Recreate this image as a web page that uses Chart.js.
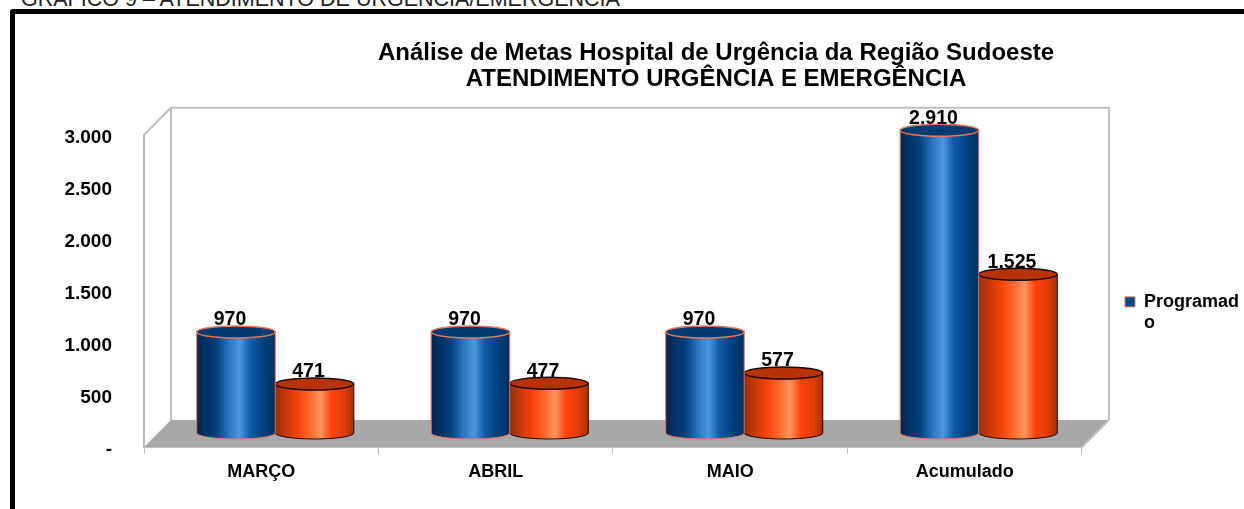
<!DOCTYPE html>
<html>
<head>
<meta charset="utf-8">
<script src="https://cdn.jsdelivr.net/npm/chart.js@4"></script>
<style>
  html, body { margin: 0; padding: 0; background: #fff; overflow: hidden; }
  #caption { position: absolute; left: 21px; top: -13px; font: 21.5px "Liberation Sans", Arial, sans-serif; color: #222; white-space: nowrap; }
  #frame { position: absolute; left: 10px; top: 9px; width: 1240px; height: 520px; border: 5px solid #000; border-radius: 3px; }
  #wrap { position: absolute; left: 0; top: 0; width: 1244px; height: 509px; }
</style>
</head>
<body>
<div id="caption">GRÁFICO 9 – ATENDIMENTO DE URGÊNCIA/EMERGÊNCIA</div>
<div id="frame"></div>
<div id="wrap"><canvas id="chart"></canvas></div>
<script>
const categories = ['MARÇO', 'ABRIL', 'MAIO', 'Acumulado'];
const programado = [970, 970, 970, 2910];
const realizado = [471, 477, 577, 1525];
const yTicks = [0, 500, 1000, 1500, 2000, 2500, 3000];
const titleLines = ['Análise de Metas Hospital de Urgência da Região Sudoeste', 'ATENDIMENTO URGÊNCIA E EMERGÊNCIA'];

const FONT = '"Liberation Sans", Arial, sans-serif';
const DEPTH = 27;       // wall depth of the fake 3D box
const BAR_DEPTH = 14;   // cylinders stand in the middle of the floor
const TITLE_CENTER = 716;
const LEGEND_SHIFT = 40;

function fmt(v) {
    return v === 0 ? '-' : v.toLocaleString('pt-BR');
}

function sideGradient(ctx, x0, x1, stops) {
    const g = ctx.createLinearGradient(x0, 0, x1, 0);
    stops.forEach(s => g.addColorStop(s[0], s[1]));
    return g;
}

const blueStops = [[0, '#00264f'], [0.25, '#003f7d'], [0.42, '#2f78c2'], [0.55, '#4f96dc'], [0.68, '#0f5ba6'], [0.85, '#003f7d'], [1, '#002f60']];
const orangeStops = [[0, '#9a2e0a'], [0.28, '#f54208'], [0.45, '#ff6a2e'], [0.58, '#ff9560'], [0.72, '#ff4208'], [0.88, '#e03c08'], [1, '#a8300a']];

const box3d = {
    id: 'box3d',
    // the original title and legend sit off-centre, move their boxes after layout
    afterLayout(chart) {
        const t = chart.titleBlock;
        const w = t.right - t.left;
        t.left = TITLE_CENTER - w / 2;
        t.right = t.left + w;
        chart.legend.top += LEGEND_SHIFT;
        chart.legend.bottom += LEGEND_SHIFT;
    },
    beforeDatasetsDraw(chart) {
        const { ctx, chartArea: a } = chart;
        ctx.save();
        // floor
        ctx.fillStyle = '#a8a8a8';
        ctx.beginPath();
        ctx.moveTo(a.left, a.bottom);
        ctx.lineTo(a.left + DEPTH, a.bottom - DEPTH);
        ctx.lineTo(a.right + DEPTH, a.bottom - DEPTH);
        ctx.lineTo(a.right, a.bottom);
        ctx.closePath();
        ctx.fill();
        // back and side wall
        ctx.strokeStyle = '#bfbfbf';
        ctx.lineWidth = 2;
        ctx.beginPath();
        ctx.moveTo(a.left, a.top);
        ctx.lineTo(a.left + DEPTH, a.top - DEPTH);
        ctx.lineTo(a.right + DEPTH, a.top - DEPTH);
        ctx.lineTo(a.right + DEPTH, a.bottom - DEPTH);
        ctx.moveTo(a.left + DEPTH, a.top - DEPTH);
        ctx.lineTo(a.left + DEPTH, a.bottom - DEPTH);
        ctx.moveTo(a.right + DEPTH, a.bottom - DEPTH);
        ctx.lineTo(a.right, a.bottom);
        ctx.stroke();
        ctx.restore();
    },
    // cylinders replace the flat bars, positions still come from the bar elements
    beforeDatasetDraw(chart, args) {
        const ctx = chart.ctx;
        const ds = chart.data.datasets[args.index];
        const ry = 6;
        args.meta.data.forEach((bar, i) => {
            const left = bar.x - bar.width / 2 + BAR_DEPTH;
            const right = bar.x + bar.width / 2 + BAR_DEPTH;
            const cx = (left + right) / 2;
            const top = bar.y - BAR_DEPTH;
            const base = bar.base - BAR_DEPTH;
            const rx = bar.width / 2;
            ctx.save();
            ctx.beginPath();
            ctx.moveTo(left, top);
            ctx.lineTo(left, base);
            ctx.ellipse(cx, base, rx, ry, 0, Math.PI, 0, true);
            ctx.lineTo(right, top);
            ctx.closePath();
            ctx.fillStyle = sideGradient(ctx, left, right, ds.sideStops);
            ctx.fill();
            ctx.lineWidth = 1;
            ctx.strokeStyle = ds.borderColor;
            ctx.stroke();
            ctx.beginPath();
            ctx.ellipse(cx, top, rx, ry, 0, 0, Math.PI * 2);
            ctx.fillStyle = ds.topColor;
            ctx.fill();
            ctx.lineWidth = 1.5;
            ctx.stroke();
            // value label
            ctx.fillStyle = '#000';
            ctx.font = 'bold 19.5px ' + FONT;
            ctx.textAlign = 'center';
            ctx.textBaseline = 'middle';
            ctx.fillText(fmt(ds.data[i]), cx - 6, top - 12);
            ctx.restore();
        });
        return false;
    }
};

new Chart(document.getElementById('chart'), {
    type: 'bar',
    plugins: [box3d],
    data: {
        labels: categories,
        datasets: [
            { label: 'Programado', data: programado, backgroundColor: '#004a8c', borderColor: '#e8765a', borderWidth: 1, topColor: '#003a72', sideStops: blueStops },
            { label: 'Realizado', data: realizado, backgroundColor: '#ff4208', borderColor: '#1a0a04', borderWidth: 1, topColor: '#b83208', sideStops: orangeStops }
        ]
    },
    options: {
        responsive: true,
        maintainAspectRatio: false,
        animation: false,
        categoryPercentage: 0.67,
        barPercentage: 1,
        layout: { padding: { top: 40, left: 20, right: -5, bottom: 0 } },
        plugins: {
            title: {
                display: true,
                text: titleLines,
                color: '#000',
                font: { family: FONT, size: 24, weight: 'bold', lineHeight: 1.08 },
                padding: { top: 0, bottom: 43 }
            },
            legend: {
                position: 'right',
                labels: {
                    color: '#000',
                    font: { family: FONT, size: 18, weight: 'bold' },
                    boxWidth: 10,
                    boxHeight: 10,
                    padding: 43,
                    filter: item => item.datasetIndex === 0,
                    generateLabels(chart) {
                        const items = Chart.defaults.plugins.legend.labels.generateLabels(chart);
                        items[0].text = ['Programad', 'o'];
                        return items;
                    }
                }
            },
            tooltip: { enabled: false }
        },
        scales: {
            x: {
                grid: { drawOnChartArea: false, color: '#bfbfbf', tickLength: 7 },
                border: { color: '#bfbfbf', width: 2 },
                ticks: { color: '#000', font: { family: FONT, size: 18, weight: 'bold' }, padding: 7, maxRotation: 0 },
                afterFit(scale) { scale.height = 62; }
            },
            y: {
                min: 0,
                max: 3000,
                afterBuildTicks(scale) { scale.ticks = yTicks.map(v => ({ value: v })); },
                grid: { display: false },
                border: { color: '#bfbfbf', width: 2 },
                // empty first line with a tight line height drops the label 3px, as in the original
                ticks: { color: '#000', font: { family: FONT, size: 19, weight: 'bold', lineHeight: '6px' }, padding: 24, callback: v => ['', fmt(v)] },
                afterFit(scale) { scale.width = 124; }
            }
        }
    }
});
</script>
</body>
</html>
